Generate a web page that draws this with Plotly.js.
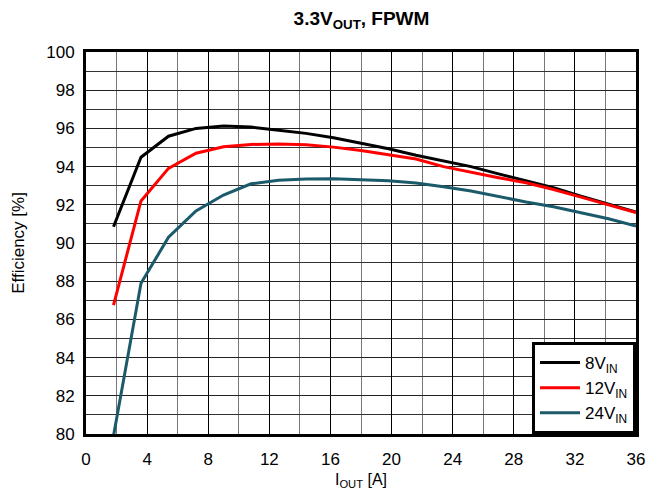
<!DOCTYPE html>
<html>
<head>
<meta charset="utf-8">
<script src="https://cdn.plot.ly/plotly-3.0.1.min.js"></script>
<style>html,body{margin:0;padding:0;background:#fff;}#chart{width:649px;height:491px;}</style>
</head>
<body>
<div id="chart"></div>
<script>
const currentA = [1.8, 3.6, 5.4, 7.2, 9.0, 10.8, 12.6, 14.4, 16.2, 18.0, 19.8, 21.6, 23.4, 25.2, 27.0, 28.8, 30.6, 32.4, 34.2, 36.0];
const eff8V  = [90.85, 94.49, 95.59, 96.00, 96.13, 96.07, 95.90, 95.74, 95.51, 95.23, 94.93, 94.59, 94.30, 94.00, 93.62, 93.25, 92.90, 92.45, 92.05, 91.62];
const eff12V = [86.75, 92.20, 93.91, 94.70, 95.04, 95.16, 95.18, 95.14, 95.02, 94.84, 94.62, 94.40, 94.00, 93.70, 93.42, 93.15, 92.80, 92.40, 92.00, 91.59];
const eff24V = [79.90, 87.89, 90.30, 91.68, 92.51, 93.10, 93.28, 93.35, 93.37, 93.33, 93.26, 93.14, 92.95, 92.72, 92.42, 92.15, 91.90, 91.60, 91.27, 90.89];
const seriesNames = ['8V<sub>IN</sub>', '12V<sub>IN</sub>', '24V<sub>IN</sub>'];
const seriesColors = ['#000000', '#ff0000', '#1b5a6b'];

const effs = [eff8V, eff12V, eff24V];
const traces = effs.map((y, i) => ({
  x: currentA, y: y, type: 'scatter', mode: 'lines', name: seriesNames[i],
  line: {color: seriesColors[i], width: 3}
}));

const layout = {
  width: 649, height: 491,
  margin: {l: 86, r: 13, t: 52, b: 57},
  paper_bgcolor: '#fff', plot_bgcolor: '#fff',
  font: {family: 'Liberation Sans, Arial, sans-serif', size: 17, color: '#000'},
  title: {text: '<b>3.3V<sub>OUT</sub>, FPWM</b>', font: {size: 19}, x: 0.557, xanchor: 'center', y: 0.963, yanchor: 'middle'},
  xaxis: {
    range: [0, 36], dtick: 4, tick0: 0, showline: true, mirror: true, linecolor: '#000', linewidth: 3,
    showgrid: true, gridcolor: '#000', gridwidth: 1, zeroline: false, ticks: '',
    minor: {dtick: 2, showgrid: true, gridcolor: '#777', gridwidth: 1},
    ticklabelstandoff: 8,
    tickfont: {size: 17},
    title: {text: 'I<sub>OUT</sub> [A]', font: {size: 16}, standoff: 6}
  },
  yaxis: {
    range: [80, 100], dtick: 2, tick0: 80, showline: true, mirror: true, linecolor: '#000', linewidth: 3,
    showgrid: true, gridcolor: '#222', gridwidth: 1, zeroline: false, ticks: '',
    minor: {dtick: 1, showgrid: true, gridcolor: '#333', gridwidth: 1},
    ticklabelstandoff: 5,
    tickfont: {size: 17},
    title: {text: 'Efficiency [%]', font: {size: 17}, standoff: 18}
  },
  legend: {
    x: 1, y: 0, xanchor: 'right', yanchor: 'bottom',
    bgcolor: '#fff', bordercolor: '#000', borderwidth: 3,
    font: {size: 17}, tracegroupgap: 0, itemwidth: 40
  },
  showlegend: true
};

Plotly.newPlot('chart', traces, layout, {displayModeBar: false, staticPlot: true});
</script>
</body>
</html>
